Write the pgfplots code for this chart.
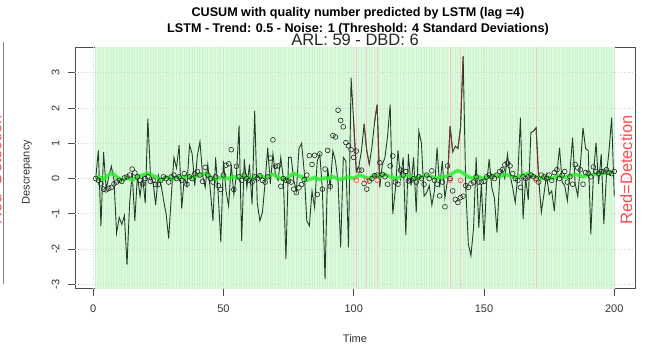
\documentclass[border=0pt]{standalone}
\usepackage{fontspec}
\setmainfont{Liberation Sans}
\usepackage{pgfplots}
\usepackage{pgfplotstable}
\pgfplotsset{compat=1.18}
\definecolor{bgg}{RGB}{222,250,222}
\definecolor{stripe}{RGB}{204,244,204}
\definecolor{detred}{RGB}{242,198,198}
\definecolor{serline}{RGB}{35,62,40}
\definecolor{limeg}{RGB}{45,238,45}
\definecolor{redseg}{RGB}{105,55,45}
\definecolor{gridc}{RGB}{212,212,212}
\pgfplotstableread{
x l c g
1 0.00 0.00 0.00
2 0.80 -0.05 0.05
3 -1.35 -0.15 0.02
4 0.75 -0.30 -0.03
5 -0.30 -0.32 0.05
6 0.05 -0.28 0.10
7 0.35 -0.25 0.15
8 -0.05 -0.15 0.12
9 -1.55 -0.10 0.05
10 -1.10 -0.05 0.00
11 -1.30 -0.08 -0.05
12 -1.05 0.02 -0.02
13 -2.45 0.05 0.03
14 -0.70 0.10 0.00
15 0.15 0.27 -0.05
16 -1.20 0.16 0.00
17 0.10 0.05 0.05
18 -0.50 -0.05 0.08
19 0.05 -0.15 0.10
20 -0.70 0.00 0.12
21 1.70 0.05 0.15
22 0.10 -0.08 0.12
23 -0.10 -0.05 0.08
24 -0.75 -0.17 0.05
25 0.10 -0.17 0.00
26 -0.15 -0.05 -0.03
27 -0.60 0.05 0.00
28 -1.00 0.00 0.05
29 -1.70 -0.10 0.02
30 -0.50 0.05 -0.02
31 0.60 0.10 0.00
32 0.30 0.00 0.05
33 0.95 0.05 0.03
34 -0.85 -0.05 0.00
35 0.05 0.14 0.05
36 -0.20 -0.16 0.08
37 0.95 0.05 0.05
38 0.70 0.00 0.02
39 -0.20 0.14 0.05
40 0.65 0.20 0.08
41 1.05 0.10 0.10
42 0.10 -0.08 0.12
43 -0.25 0.32 0.15
44 0.40 0.10 0.10
45 -0.35 0.00 0.05
46 -1.20 -0.10 0.00
47 0.60 0.05 -0.03
48 -0.45 -0.20 0.00
49 -1.80 -0.31 0.03
50 0.50 0.10 0.05
51 -0.35 0.38 0.02
52 -0.78 0.42 0.00
53 0.40 0.82 0.03
54 -0.45 -0.31 0.05
55 0.10 0.35 0.02
56 1.50 0.05 0.00
57 -1.77 -0.05 0.05
58 0.55 0.10 0.08
59 -0.25 0.00 0.05
60 0.40 -0.05 0.02
61 -0.73 -0.10 0.00
62 1.92 0.05 0.03
63 -0.70 0.00 0.05
64 -1.20 0.08 0.08
65 -0.95 -0.05 0.05
66 -0.10 -0.10 0.02
67 0.88 0.05 0.05
68 -0.15 0.58 0.10
69 0.70 1.10 0.12
70 0.10 0.35 0.08
71 -0.05 0.36 0.05
72 0.60 -0.22 0.00
73 0.00 0.00 -0.02
74 -2.28 -0.05 0.00
75 0.60 -0.07 0.05
76 0.60 -0.10 0.10
77 -0.05 -0.30 0.15
78 -0.35 -0.40 0.12
79 0.85 -0.26 0.08
80 1.00 -0.17 0.05
81 0.20 -0.03 0.00
82 -1.20 0.10 -0.05
83 -1.34 0.65 -0.02
84 -0.35 0.40 0.00
85 -0.82 0.66 0.03
86 0.50 -0.45 0.00
87 0.69 0.70 -0.03
88 -0.35 -0.30 0.00
89 -2.85 0.27 0.02
90 0.30 0.80 0.00
91 -0.25 -0.22 0.03
92 0.78 1.22 0.05
93 0.50 1.18 0.02
94 -0.10 1.94 0.00
95 -1.95 1.65 -0.03
96 0.60 1.47 0.00
97 0.50 1.02 0.02
98 -1.95 0.93 0.05
99 2.86 0.82 0.02
100 1.60 0.60 0.00
101 0.20 0.78 0.05
102 0.35 0.24 0.10
103 0.80 0.24 0.08
104 1.55 -0.14 0.05
105 0.80 -0.30 0.02
106 0.40 -0.07 0.00
107 0.90 0.00 0.05
108 1.60 0.08 0.10
109 2.10 0.10 0.08
110 -0.25 0.45 0.05
111 0.40 0.12 0.10
112 0.60 0.05 0.12
113 1.20 -0.16 0.08
114 2.10 0.36 0.05
115 -1.00 0.64 0.03
116 -0.30 -0.10 0.00
117 0.80 -0.16 0.02
118 0.00 0.24 0.05
119 0.60 0.10 0.08
120 -1.60 0.20 0.10
121 0.69 -0.07 0.08
122 -0.20 -0.05 0.05
123 0.60 0.00 0.02
124 -0.96 -0.10 0.00
125 1.35 0.05 0.03
126 1.00 0.00 0.05
127 -0.50 -0.16 0.08
128 -0.40 0.10 0.10
129 -0.20 0.00 0.08
130 -0.75 0.22 0.05
131 -0.35 -0.05 0.03
132 0.88 -0.16 0.00
133 -0.25 -0.49 0.02
134 0.50 -0.10 0.05
135 -0.55 -0.80 0.05
136 -0.05 0.36 0.08
137 1.49 0.00 0.10
138 0.75 -0.35 0.15
139 0.92 -0.59 0.20
140 0.85 -0.68 0.22
141 1.45 -0.54 0.20
142 3.47 -0.50 0.15
143 -0.25 -0.20 0.10
144 -1.86 -0.25 0.05
145 -2.19 -0.15 0.02
146 -1.40 -0.10 0.00
147 0.60 0.05 0.03
148 -1.40 -0.10 0.05
149 -0.15 -0.10 0.02
150 -1.77 -0.08 0.00
151 -0.15 0.05 0.03
152 0.55 0.10 0.05
153 -0.25 0.05 0.08
154 -0.55 0.00 0.10
155 -1.53 0.10 0.08
156 0.00 0.20 0.05
157 0.25 0.25 0.08
158 0.00 0.39 0.12
159 0.69 0.44 0.10
160 0.10 0.36 0.08
161 -0.25 0.14 0.05
162 -0.68 0.00 0.03
163 0.10 -0.05 0.05
164 1.73 -0.25 0.08
165 -1.15 0.05 0.10
166 0.00 0.00 0.12
167 -0.60 0.05 0.15
168 1.30 0.10 0.12
169 1.35 0.05 0.08
170 1.44 0.00 0.05
171 0.00 -0.10 0.03
172 -0.96 0.10 0.00
173 -0.45 0.05 0.02
174 0.10 0.00 0.05
175 -0.45 0.10 0.03
176 -0.35 -0.05 0.00
177 -0.92 0.17 0.03
178 0.15 0.25 0.05
179 0.88 0.00 0.08
180 -0.10 0.10 0.05
181 -0.20 0.20 0.03
182 -0.63 -0.10 0.05
183 0.20 0.05 0.08
184 1.16 -0.16 0.10
185 -0.15 0.40 0.12
186 -0.50 0.30 0.10
187 0.40 0.25 0.08
188 1.44 -0.16 0.05
189 0.85 0.17 0.08
190 0.80 0.15 0.10
191 -1.58 0.05 0.12
192 0.10 0.33 0.10
193 1.02 0.20 0.12
194 -0.15 0.15 0.15
195 0.70 0.20 0.12
196 -1.29 0.20 0.15
197 0.10 0.25 0.18
198 0.80 0.17 0.15
199 1.73 0.14 0.18
200 -0.50 0.20 0.20
}\data

\begin{document}
\begin{tikzpicture}[x=1pt,y=1pt]
\useasboundingbox (0,0) rectangle (651,346);
% remnant of neighbouring panel at the left edge
\draw[black!50, line width=0.8pt] (3.3,62) -- (3.3,304);
\node[rotate=90, anchor=base, text=red!70, inner sep=0pt,
      font=\fontsize{16.5}{18}\selectfont] at (1.5,176) {Red=Detection};
\begin{axis}[
  at={(75pt,57.5pt)}, anchor=south west,
  scale only axis, width=560pt, height=241pt,
  xmin=-6.96, xmax=207.96, ymin=-3.12, ymax=3.72,
  axis line style={draw=black!70, line width=0.8pt},
  xtick={0,50,100,150,200}, ytick={-3,-2,-1,0,1,2,3},
  xtick pos=bottom, ytick pos=left,
  tick align=outside, major tick length=7pt,
  tick style={black!70, line width=0.8pt},
  ticklabel style={font=\fontsize{11}{13}\selectfont, text=black!80},
  yticklabel style={rotate=90, anchor=south},
  xticklabel shift=6pt, yticklabel shift=5pt,
  /pgf/number format/assume math mode=true,
  clip=true,
]
\fill[bgg] (axis cs:1,-3.12) rectangle (axis cs:200,3.72);
\pgfplotsinvokeforeach{1,...,200}{
  \draw[stripe, line width=1.0pt] (axis cs:#1,-3.12) -- (axis cs:#1,3.72);
}
\pgfplotsinvokeforeach{-3,-2,-1,0,1,2,3}{
  \draw[gridc, dotted, line width=0.8pt] (axis cs:-6.96,#1) -- (axis cs:207.96,#1);
}
\pgfplotsinvokeforeach{0,50,100,150,200}{
  \draw[gridc, dotted, line width=0.8pt] (axis cs:#1,-3.12) -- (axis cs:#1,3.72);
}
\pgfplotsinvokeforeach{101,105,109,137,141,170}{
  \draw[detred, line width=1.0pt] (axis cs:#1,-3.12) -- (axis cs:#1,3.72);
}
\addplot[serline, line width=0.9pt] table[x=x,y=l]{\data};
\addplot[redseg, line width=0.9pt, unbounded coords=jump] coordinates {
 (100,1.60) (101,0.20) (102,0.35) (102,nan)
 (104,1.55) (105,0.80) (106,0.40) (106,nan)
 (108,1.60) (109,2.10) (110,-0.25) (110,nan)
 (136,-0.05) (137,1.49) (138,0.75) (138,nan)
 (140,0.85) (141,1.45) (142,3.47) (142,nan)
 (169,1.35) (170,1.44) (171,0.00)
};
\addplot[limeg, line width=3.5pt, opacity=0.85] table[x=x,y=g]{\data};
\addplot[only marks, mark=o, mark size=2.4pt, black!85,
  mark options={line width=0.6pt}] table[x=x,y=c]{\data};
\addplot[only marks, mark=o, mark size=2.4pt, red!70,
  mark options={line width=0.6pt}] coordinates {
 (101,-0.05) (105,-0.05) (109,-0.05) (137,-0.05) (141,-0.05) (170,-0.05)};
\end{axis}
\node[anchor=base, font=\bfseries\fontsize{12.6}{14}\selectfont] at (358,329) {CUSUM with quality number predicted by LSTM (lag =4)};
\node[anchor=base, font=\bfseries\fontsize{12.6}{14}\selectfont] at (358,313) {LSTM - Trend: 0.5 - Noise: 1 (Threshold: 4 Standard Deviations)};
\node[anchor=base, font=\fontsize{16.5}{18}\selectfont, text=black!85] at (355,300) {ARL: 59 - DBD: 6};
\node[anchor=base, font=\fontsize{11}{13}\selectfont, text=black!80] at (355,4) {Time};
\node[rotate=90, font=\fontsize{11}{13}\selectfont, text=black!80] at (27,174) {Descrepancy};
\node[rotate=90, anchor=base, inner sep=0pt, text=red!70,
      font=\fontsize{16.5}{18}\selectfont] at (632,176) {Red=Detection};
\end{tikzpicture}
\end{document}
